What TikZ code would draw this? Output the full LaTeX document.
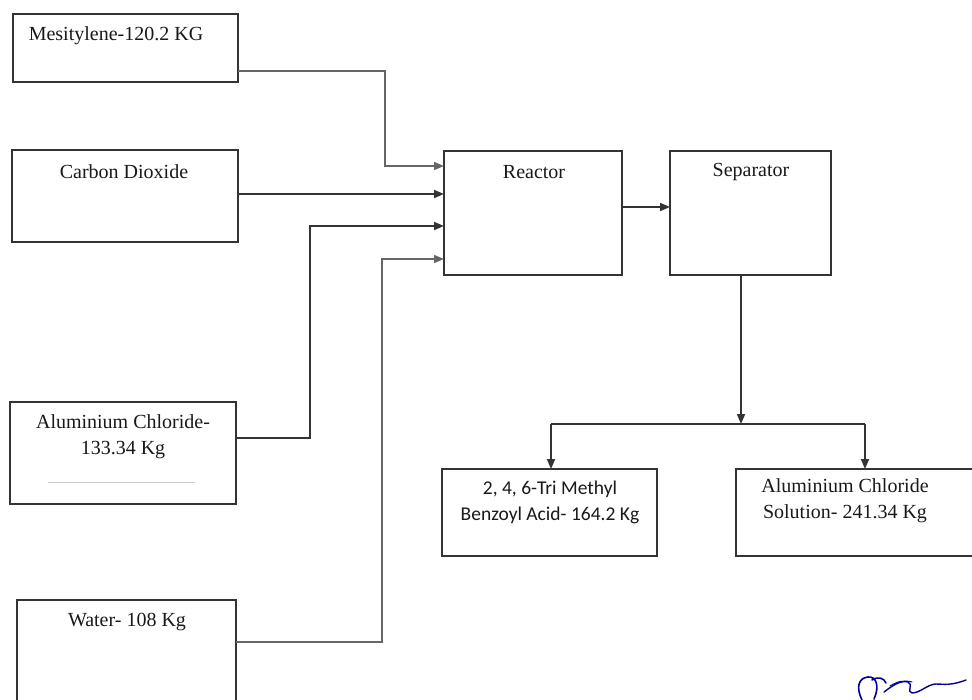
\documentclass[tikz,border=0pt]{standalone}
\usepackage{fontspec}
\setmainfont{Liberation Serif}
\newfontfamily\calib{Carlito}
\usetikzlibrary{arrows.meta}
\begin{document}
\begin{tikzpicture}[x=1pt,y=-1pt,
  boxst/.style={draw=black!80,line width=1.8pt},
  lbl/.style={inner sep=0pt,font=\fontsize{20}{26}\selectfont,text=black!90,align=center},
  slbl/.style={inner sep=0pt,font=\calib\fontsize{19.5}{26}\selectfont,text=black!90,align=center},
  flow/.style={draw=black!80,line width=1.7pt,-{Triangle[length=10pt,width=8pt]}},
  thin/.style={draw=black!60,line width=1.3pt,-{Triangle[length=10pt,width=8pt]}},
  plain/.style={draw=black!80,line width=1.7pt}]
\useasboundingbox (0,0) rectangle (972,699);
\begin{scope}
\clip (0,0) rectangle (972,699);
\fill[white] (0,0) rectangle (972,699);
% boxes
\draw[boxst] (13,14) rectangle (238,82);
\draw[boxst] (12,150) rectangle (238,242);
\draw[boxst] (10,402) rectangle (236,504);
\draw[boxst] (17,600) rectangle (236,710);
\draw[boxst] (444,151) rectangle (622,275);
\draw[boxst] (670,151) rectangle (831,275);
\draw[boxst] (442,469) rectangle (657,556);
\draw[boxst] (736,469) rectangle (990,556);
\draw[black!20,line width=1pt] (48,482) -- (195,482);
% named anchors
\node[inner sep=0pt,minimum width=225pt,minimum height=68pt] (mes) at (125.5,48) {};
\node[inner sep=0pt,minimum width=226pt,minimum height=92pt] (co2) at (125,196) {};
\node[inner sep=0pt,minimum width=226pt,minimum height=102pt] (alc) at (123,453) {};
\node[inner sep=0pt,minimum width=219pt,minimum height=110pt] (wat) at (126.5,655) {};
\node[inner sep=0pt,minimum width=178pt,minimum height=124pt] (rea) at (533,213) {};
\node[inner sep=0pt,minimum width=161pt,minimum height=124pt] (sep) at (750.5,213) {};
\node[inner sep=0pt,minimum width=215pt,minimum height=87pt] (pa) at (549.5,512.5) {};
\node[inner sep=0pt,minimum width=254pt,minimum height=87pt] (pb) at (863,512.5) {};
% texts
\node[lbl] (tmes) at (116,36) {Mesitylene-120.2 KG};
\node[lbl] (tco2) at (124,172) {Carbon Dioxide};
\node[lbl] (talc) at (123,437) {Aluminium Chloride-\\133.34 Kg};
\node[lbl] (twat) at (127,622) {Water- 108 Kg};
\node[lbl] (trea) at (534,172) {Reactor};
\node[lbl] (tsep) at (751,172) {Separator};
\node[slbl] (tpa) at (550,502) {2, 4, 6-Tri Methyl\\Benzoyl Acid- 164.2 Kg};
\node[lbl] (tpb) at (845,501) {Aluminium Chloride\\Solution- 241.34 Kg};
% connectors
\coordinate (m1) at (238,71);
\coordinate (m2) at (385,71);
\coordinate (m3) at (385,166);
\coordinate (m4) at (444,166);
\draw[thin] (m1) -- (m2) -- (m3) -- (m4);
\coordinate (c1) at (238,194);
\coordinate (c2) at (444,194);
\draw[flow] (c1) -- (c2);
\coordinate (a1) at (236,438);
\coordinate (a2) at (310,438);
\coordinate (a3) at (310,226);
\coordinate (a4) at (444,226);
\draw[flow] (a1) -- (a2) -- (a3) -- (a4);
\coordinate (w1) at (236,642);
\coordinate (w2) at (382,642);
\coordinate (w3) at (382,259);
\coordinate (w4) at (444,259);
\draw[thin] (w1) -- (w2) -- (w3) -- (w4);
\coordinate (r1) at (622,207);
\coordinate (r2) at (670,207);
\draw[flow] (r1) -- (r2);
\coordinate (s1) at (741,275);
\coordinate (s2) at (741,424);
\draw[flow] (s1) -- (s2);
\coordinate (hl) at (551,424);
\coordinate (hr) at (865,424);
\draw[plain] (hl) -- (hr);
\coordinate (pa1) at (551,469);
\coordinate (pb1) at (865,469);
\draw[flow] (hl) -- (pa1);
\draw[flow] (hr) -- (pb1);
% signature
\draw[blue!60!black,line width=1.6pt,line cap=round,line join=round]
  (862,700) .. controls (856,688) and (858,678) .. (868,677)
  .. controls (876,676) and (880,686) .. (874,699)
  (872,680) .. controls (878,676) and (884,678) .. (886,683);
\draw[blue!60!black,line width=1.4pt,line cap=round,line join=round]
  (884,692) .. controls (892,686) and (900,680) .. (908,682)
  .. controls (914,684) and (906,692) .. (912,693)
  .. controls (920,693) and (928,684) .. (936,684)
  .. controls (944,684) and (950,686) .. (966,680);
\draw[blue!60!black,line width=1pt,line cap=round]
  (890,686) .. controls (898,681) and (904,680) .. (912,682);
\end{scope}
\end{tikzpicture}
\end{document}
